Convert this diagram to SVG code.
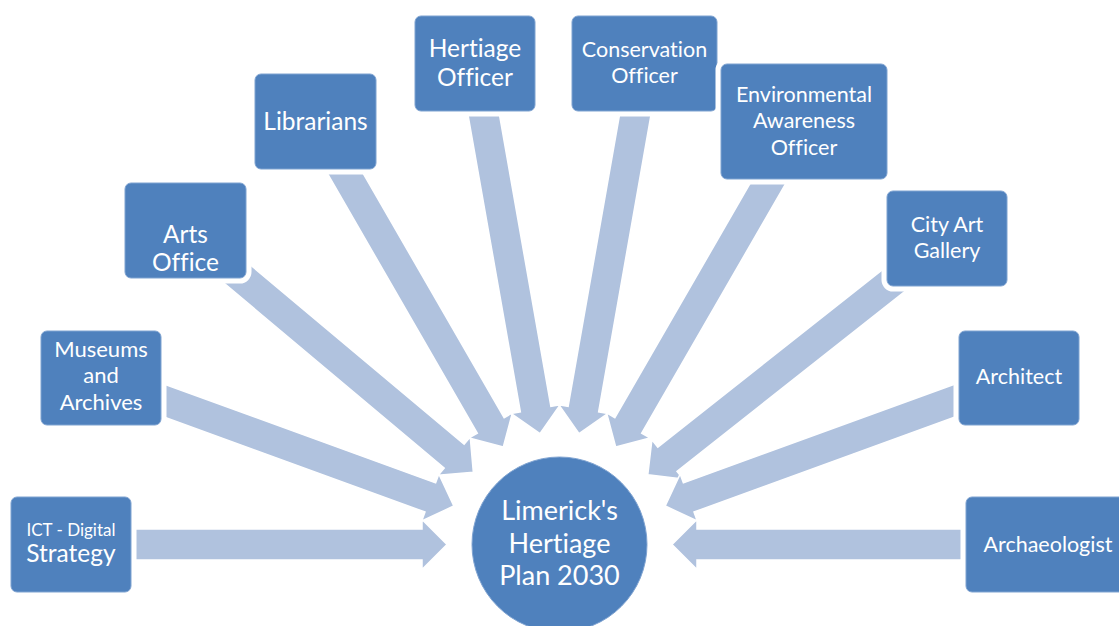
<svg xmlns="http://www.w3.org/2000/svg" width="1119" height="626" viewBox="0 0 1119 626">
  <style>
    .arrow { fill: #B0C2DE; stroke: #FFFFFF; stroke-width: 1.5; stroke-linejoin: miter; }
    .halo { fill: #FFFFFF; stroke: #FFFFFF; stroke-width: 11; }
    .box { fill: #4F81BD; stroke: #7FA3D1; stroke-width: 1; }
    .hub { fill: #4F81BD; stroke: #7FA3D1; stroke-width: 1; }
    text { font-family: Lato, "Liberation Sans", sans-serif; fill: #FFFFFF; text-anchor: middle;
           font-variant-ligatures: none; font-feature-settings: "liga" 0, "clig" 0, "dlig" 0; }
  </style>
  <defs>
    <!-- block arrow pointing at the origin from the +x side; tip 112.5 from the hub centre -->
    <path id="arw" d="M112.5,0 L137.5,-25 L137.5,-15.5 L500,-15.5 L500,15.5 L137.5,15.5 L137.5,25 Z"/>
  </defs>

  <g id="connectors" class="arrow">
    <use href="#arw" transform="translate(559.5 544.5) rotate(180)"/>
    <use href="#arw" transform="translate(559.5 544.5) rotate(200)"/>
    <use href="#arw" transform="translate(559.5 544.5) rotate(220)"/>
    <use href="#arw" transform="translate(559.5 544.5) rotate(240)"/>
    <use href="#arw" transform="translate(559.5 544.5) rotate(260)"/>
    <use href="#arw" transform="translate(559.5 544.5) rotate(280)"/>
    <use href="#arw" transform="translate(559.5 544.5) rotate(300)"/>
    <use href="#arw" transform="translate(559.5 544.5) rotate(321.7)"/>
    <use href="#arw" transform="translate(559.5 544.5) rotate(340)"/>
    <use href="#arw" transform="translate(559.5 544.5) rotate(360)"/>
  </g>

  <g id="ict">
    <rect class="halo" x="11" y="497" width="120" height="95" rx="6"/>
    <rect class="box" x="11" y="497" width="120" height="95" rx="6"/>
    <text x="71" y="536" font-size="17">ICT - Digital</text>
    <text x="71" y="562" font-size="24.5">Strategy</text>
  </g>

  <g id="museums">
    <rect class="halo" x="41" y="331" width="120" height="94" rx="6"/>
    <rect class="box" x="41" y="331" width="120" height="94" rx="6"/>
    <text x="101" y="357" font-size="22">Museums</text>
    <text x="101" y="383" font-size="22">and</text>
    <text x="101" y="410" font-size="22">Archives</text>
  </g>

  <g id="arts">
    <rect class="halo" x="125" y="183" width="121" height="95" rx="6"/>
    <rect class="box" x="125" y="183" width="121" height="95" rx="6"/>
    <text x="185.5" y="243" font-size="24.5">Arts</text>
    <text x="185.5" y="271" font-size="24.5">Office</text>
  </g>

  <g id="librarians">
    <rect class="halo" x="255" y="74" width="121" height="95" rx="6"/>
    <rect class="box" x="255" y="74" width="121" height="95" rx="6"/>
    <text x="315.5" y="130" font-size="24.5">Librarians</text>
  </g>

  <g id="heritage-officer">
    <rect class="halo" x="415" y="16" width="120" height="95" rx="6"/>
    <rect class="box" x="415" y="16" width="120" height="95" rx="6"/>
    <text x="475" y="57" font-size="24.5">Hertiage</text>
    <text x="475" y="86" font-size="24.5">Officer</text>
  </g>

  <g id="conservation">
    <rect class="halo" x="572" y="16" width="145" height="95" rx="6"/>
    <rect class="box" x="572" y="16" width="145" height="95" rx="6"/>
    <text x="644.5" y="57" font-size="21.5">Conservation</text>
    <text x="644.5" y="83" font-size="21.5">Officer</text>
  </g>

  <g id="environmental">
    <rect class="halo" x="721" y="64" width="166" height="115" rx="6"/>
    <rect class="box" x="721" y="64" width="166" height="115" rx="6"/>
    <text x="804" y="102" font-size="21.5">Environmental</text>
    <text x="804" y="128" font-size="21.5">Awareness</text>
    <text x="804" y="155" font-size="21.5">Officer</text>
  </g>

  <g id="city-art">
    <rect class="halo" x="887" y="191" width="120" height="95" rx="6"/>
    <rect class="box" x="887" y="191" width="120" height="95" rx="6"/>
    <text x="947" y="232" font-size="21.5">City Art</text>
    <text x="947" y="258" font-size="21.5">Gallery</text>
  </g>

  <g id="architect">
    <rect class="halo" x="959" y="331" width="120" height="94" rx="6"/>
    <rect class="box" x="959" y="331" width="120" height="94" rx="6"/>
    <text x="1019" y="384" font-size="21.5">Architect</text>
  </g>

  <g id="archaeologist">
    <rect class="halo" x="966" y="497" width="163" height="95" rx="6"/>
    <rect class="box" x="966" y="497" width="163" height="95" rx="6"/>
    <text x="1048" y="552" font-size="21.5">Archaeologist</text>
  </g>

  <g id="hub">
    <circle class="hub" cx="559.5" cy="544.5" r="87.5"/>
    <text x="559.5" y="520" font-size="27">Limerick's</text>
    <text x="559.5" y="553" font-size="27">Hertiage</text>
    <text x="559.5" y="585" font-size="27">Plan 2030</text>
  </g>
</svg>
